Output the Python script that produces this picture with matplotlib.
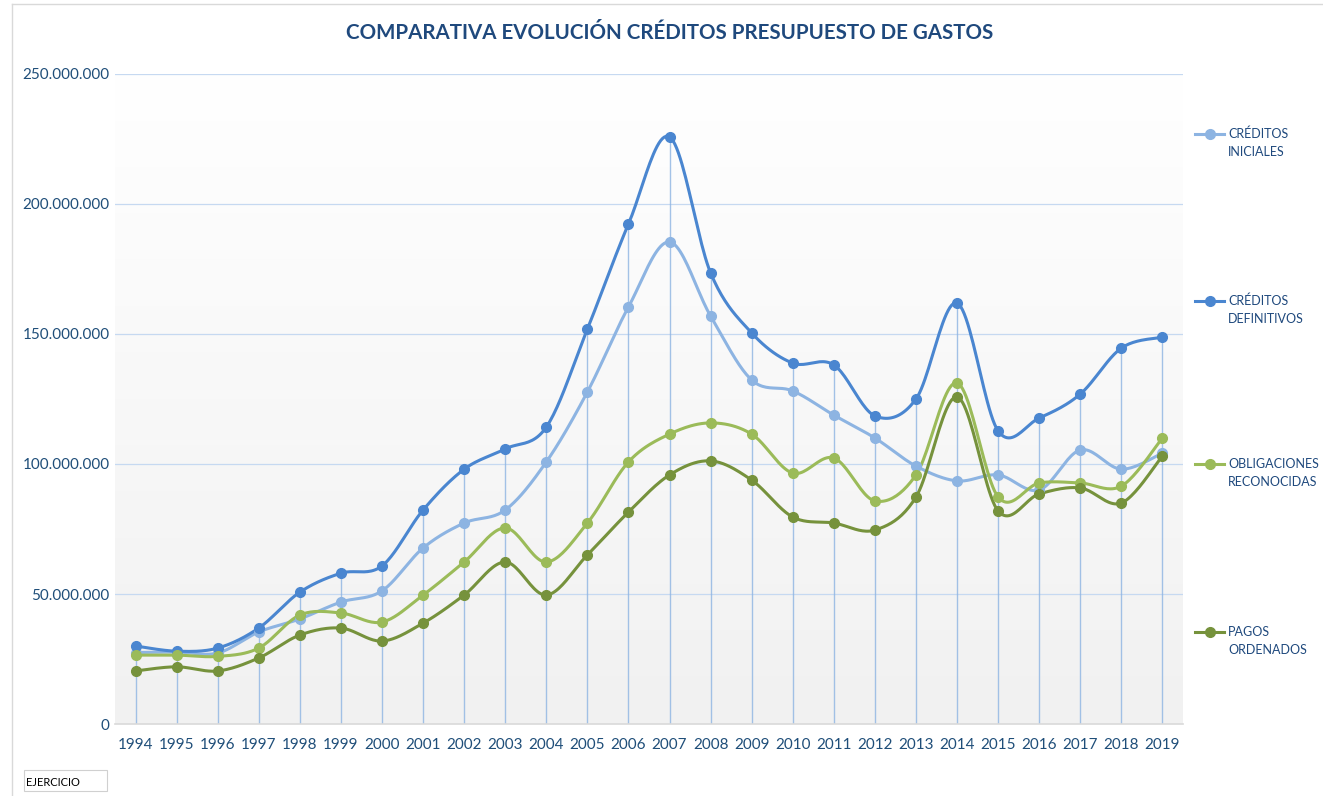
import numpy as np
import matplotlib
matplotlib.use("Agg")
import matplotlib.pyplot as plt
from matplotlib.lines import Line2D
from matplotlib.patches import Rectangle
from matplotlib.ticker import FuncFormatter

plt.rcParams['font.family'] = ['Lato', 'DejaVu Sans']

years = list(range(1994, 2020))

# valores en millones de euros
creditos_iniciales = [27.5, 27.7, 27.3, 35.4, 40.4, 46.9, 51.2, 67.7, 77.3, 82.3, 100.8, 127.7, 160.4,
                      185.4, 156.9, 132.3, 128.1, 118.8, 110.0, 99.2, 93.5, 95.8, 90.0, 105.4, 98.0, 104.2]
creditos_definitivos = [30.0, 28.0, 29.2, 36.9, 50.7, 58.0, 60.8, 82.3, 98.0, 105.8, 114.2, 151.9, 192.3,
                        225.8, 173.5, 150.4, 138.8, 138.1, 118.5, 125.0, 161.9, 112.7, 117.7, 126.9, 144.6, 148.8]
obligaciones = [26.5, 26.5, 26.0, 29.2, 41.9, 42.7, 39.2, 49.6, 62.3, 75.4, 62.3, 77.3, 100.8,
                111.5, 115.8, 111.5, 96.5, 102.3, 85.8, 95.8, 131.2, 87.3, 92.7, 92.7, 91.5, 110.0]
pagos = [20.4, 22.0, 20.4, 25.4, 34.2, 36.9, 31.9, 38.8, 49.6, 62.3, 49.6, 65.0, 81.5,
         95.8, 101.2, 93.8, 79.6, 77.3, 74.6, 87.3, 125.8, 81.9, 88.5, 90.8, 85.0, 103.1]

labels = ["CRÉDITOS\nINICIALES", "CRÉDITOS\nDEFINITIVOS", "OBLIGACIONES\nRECONOCIDAS", "PAGOS\nORDENADOS"]
colors = ["#8db4e2", "#4a86d0", "#9bbb59", "#76923c"]
series = [creditos_iniciales, creditos_definitivos, obligaciones, pagos]


def smooth(x, y, n=24):
    # curva suavizada tipo Excel (Catmull-Rom -> Bezier)
    p = np.column_stack([x, y]).astype(float)
    out = []
    for i in range(len(p) - 1):
        p0 = p[max(i - 1, 0)]
        p1 = p[i]
        p2 = p[i + 1]
        p3 = p[min(i + 2, len(p) - 1)]
        c1 = p1 + (p2 - p0) / 6
        c2 = p2 - (p3 - p1) / 6
        t = np.linspace(0, 1, n)[:, None]
        seg = (1 - t)**3 * p1 + 3 * (1 - t)**2 * t * c1 + 3 * (1 - t) * t**2 * c2 + t**3 * p2
        out.append(seg if i == 0 else seg[1:])
    out = np.vstack(out)
    return out[:, 0], out[:, 1]


fig = plt.figure(figsize=(13.23, 7.96), dpi=100)
ax = fig.add_axes([115 / 1323, 72 / 796, 1068 / 1323, 650 / 796])

x = np.array(years)
ymax = 250e6

# fondo degradado
grad = np.linspace(0, 1, 256)[:, None]
cmap = matplotlib.colors.LinearSegmentedColormap.from_list("g", ["#f1f1f1", "#ffffff"])
ax.imshow(grad, extent=[1993.5, 2019.5, 0, ymax], origin="lower", aspect="auto", cmap=cmap, zorder=0)

for yv in np.arange(50e6, 250e6 + 1, 50e6):
    ax.axhline(yv, color="#c6d9f1", lw=0.9, zorder=1)

# lineas de proyeccion
tops = np.max(np.array(series), axis=0) * 1e6
ax.vlines(x, 0, tops, color="#8db4e2", lw=1.0, zorder=2, alpha=0.8)

for vals, c in zip(series, colors):
    v = np.array(vals) * 1e6
    sx, sy = smooth(x, v)
    ax.plot(sx, sy, color=c, lw=2.2, zorder=3, solid_capstyle="round")
    ax.plot(x, v, "o", color=c, ms=7, zorder=4)

ax.set_xlim(1993.5, 2019.5)
ax.set_ylim(0, ymax)
ax.set_xticks(years)
ax.set_xticklabels([str(yr) for yr in years])
ax.set_yticks(np.arange(0, 250e6 + 1, 50e6))
ax.yaxis.set_major_formatter(FuncFormatter(lambda v, p: f"{int(v):,}".replace(",", ".")))
ax.tick_params(axis="both", length=0, labelsize=11, labelcolor="#1f4e79")
ax.tick_params(axis="x", pad=10)
ax.tick_params(axis="y", pad=4)
for s in ["top", "right", "left"]:
    ax.spines[s].set_visible(False)
ax.spines["bottom"].set_color("#d9d9d9")
ax.spines["bottom"].set_linewidth(1.2)

fig.text(0.506, 1 - 33 / 796, "COMPARATIVA EVOLUCIÓN CRÉDITOS PRESUPUESTO DE GASTOS",
         ha="center", va="center", fontsize=14.8, fontweight="bold", color="#1f497d")

# leyenda manual
leg_y = [143, 310, 473, 641]
for yy, lab, c in zip(leg_y, labels, colors):
    fy = 1 - (yy - 9) / 796
    fig.add_artist(Line2D([1195 / 1323, 1224 / 1323], [fy, fy], color=c, lw=2.2,
                          transform=fig.transFigure))
    fig.add_artist(Line2D([1209.5 / 1323], [fy], marker="o", color=c, ms=7,
                          transform=fig.transFigure))
    fig.text(1228 / 1323, 1 - yy / 796, lab, ha="left", va="center", fontsize=9,
             color="#1f497d", linespacing=1.6)

# recuadro EJERCICIO
fig.add_artist(Rectangle((24 / 1323, 1 - 791 / 796), 83 / 1323, 21 / 796, transform=fig.transFigure,
                         fill=False, edgecolor="#d0d0d0", lw=0.8))
fig.text(26 / 1323, 1 - 783 / 796, "EJERCICIO", ha="left", va="center", fontsize=8, color="black")

# bordes del area del grafico
fig.add_artist(Line2D([12 / 1323, 12 / 1323], [0, 1 - 4 / 796], color="#d9d9d9", lw=1,
                      transform=fig.transFigure))
fig.add_artist(Line2D([12 / 1323, 1], [1 - 4 / 796, 1 - 4 / 796], color="#d9d9d9", lw=1,
                      transform=fig.transFigure))

fig.savefig("out.png", dpi=100)
